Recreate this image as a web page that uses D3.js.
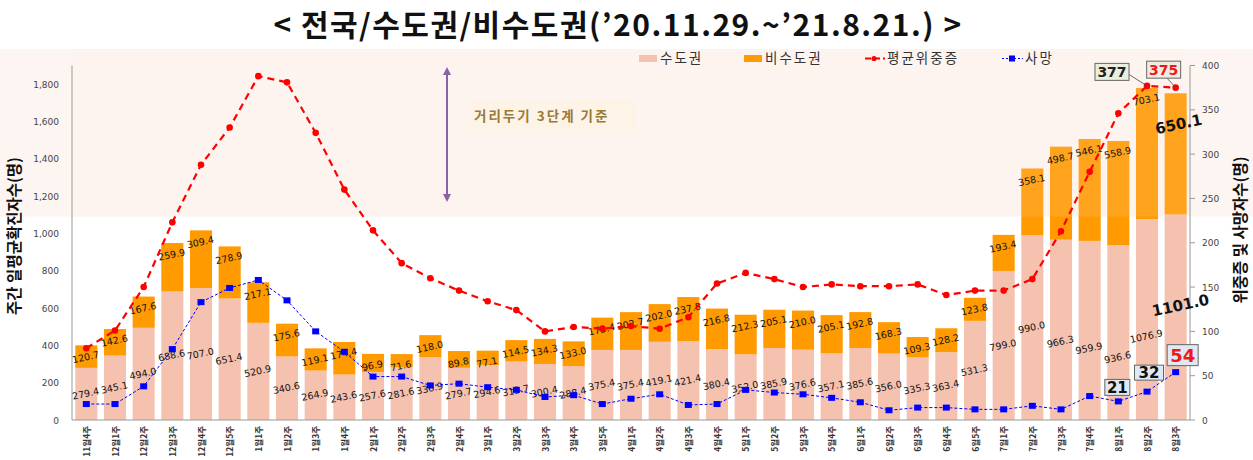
<!DOCTYPE html>
<html><head><meta charset="utf-8">
<script src="https://cdn.jsdelivr.net/npm/d3@7/dist/d3.min.js"></script>
<style>
body{margin:0;background:#fff;}
svg{display:block;}
</style></head>
<body>
<svg id="c" width="1253" height="460"></svg>
<script>
const weeks = ["11월4주","12월1주","12월2주","12월3주","12월4주","12월5주","1월1주","1월2주","1월3주","1월4주","2월1주","2월2주","2월3주","2월4주","3월1주","3월2주","3월3주","3월4주","3월5주","4월1주","4월2주","4월3주","4월4주","5월1주","5월2주","5월3주","5월4주","6월1주","6월2주","6월3주","6월4주","6월5주","7월1주","7월2주","7월3주","7월4주","8월1주","8월2주","8월3주"];
const capital = [279.4,345.1,494.0,688.6,707.0,651.4,520.9,340.6,264.9,243.6,257.6,281.6,336.9,279.7,294.6,313.7,300.4,288.4,375.4,375.4,419.1,421.4,380.4,352.0,385.9,376.6,357.1,385.6,356.0,335.3,363.4,531.3,799.0,990.0,966.3,959.9,936.6,1076.9,1101.0];
const nonCapital = [120.7,142.6,167.6,259.9,309.4,278.9,217.1,175.6,119.1,174.4,96.9,71.6,118.0,89.8,77.1,114.5,134.3,133.0,173.4,202.7,202.0,237.5,216.8,212.3,205.1,210.0,205.1,192.8,168.3,109.3,128.2,123.8,193.4,358.1,498.7,546.1,558.9,703.1,650.1];
const severe = [81,101,150,223,288,330,388,381,324,260,214,177,160,146,134,124,100,105,103,106,103,116,154,166,159,150,153,151,151,153,141,146,146,159,213,280,346,377,375];
const deaths = [18,18,38,80,133,149,158,135,100,77,49,49,39,41,37,34,26,28,18,24,29,17,18,34,31,29,25,20,11,14,14,12,12,16,12,27,21,32,54];
const leftTicks = [0,200,400,600,800,1000,1200,1400,1600,1800];
const rightTicks = [0,50,100,150,200,250,300,350,400];
const seriesNames = ["수도권","비수도권","평균위중증","사망"];
const titleText = "< 전국/수도권/비수도권(’20.11.29.~’21.8.21.) >";
const leftTitle = "주간 일평균확진자수(명)";
const rightTitle = "위중증 및 사망자수(명)";
const noteText = "거리두기 3단계 기준";
const stageLevel = 1090; // lower edge of shaded band (cases)

const C = {pink:"#f5c2b0", orange:"#ff9a00", red:"#ff0000", blue:"#0000ff"};
const svg = d3.select("#c");
const W = 1253, H = 460;
const L = 72, R = 1190, B = 420, T = 65.5;

const x = d3.scaleBand().domain(weeks).range([L,R]).paddingInner(0.23).paddingOuter(0.115);
const yL = d3.scaleLinear().domain([0,1900]).range([B,T]);
const yR = d3.scaleLinear().domain([0,400]).range([B,T]);
const cx = i => x(weeks[i]) + x.bandwidth()/2;

// shaded band
svg.append("rect").attr("x",0).attr("y",49).attr("width",W).attr("height",yL(stageLevel)-49).attr("fill","#fdf5f2");

// title
svg.append("text").attr("x",618).attr("y",36).attr("text-anchor","middle")
  .attr("font-family","'Noto Sans CJK KR'").attr("font-weight","bold").attr("font-size",30).attr("letter-spacing",1.5).attr("fill","#111").text(titleText);

// note box + arrow
svg.append("rect").attr("x",470).attr("y",100).attr("width",166).attr("height",34).attr("fill","#fdf3e4").attr("opacity",0.7);
svg.append("text").attr("x",474).attr("y",121).attr("font-family","'Noto Sans CJK KR'").attr("font-weight","bold")
  .attr("font-size",13.5).attr("letter-spacing",2).attr("fill","#8c6a1c").text(noteText);
const defs = svg.append("defs");
defs.append("marker").attr("id","ah").attr("viewBox","0 0 10 10").attr("refX",5).attr("refY",5)
  .attr("markerWidth",4).attr("markerHeight",4).attr("orient","auto-start-reverse")
  .append("path").attr("d","M0,0L10,5L0,10z").attr("fill","#7d4f9e");
svg.append("line").attr("x1",447).attr("x2",447).attr("y1",71).attr("y2",198)
  .attr("stroke","#7d4f9e").attr("stroke-width",2).attr("marker-start","url(#ah)").attr("marker-end","url(#ah)");

// bars
const g = svg.append("g");
g.selectAll(".bc").data(capital).join("rect").attr("x",(d,i)=>x(weeks[i])).attr("width",x.bandwidth())
  .attr("y",d=>yL(d)).attr("height",d=>B-yL(d)).attr("fill",C.pink);
g.selectAll(".bn").data(nonCapital).join("rect").attr("x",(d,i)=>x(weeks[i])).attr("width",x.bandwidth())
  .attr("y",(d,i)=>yL(capital[i]+d)).attr("height",(d,i)=>yL(capital[i])-yL(capital[i]+d)).attr("fill",C.orange);

// light overlay of band on bars
svg.append("rect").attr("x",L).attr("y",49).attr("width",R-L).attr("height",yL(stageLevel)-49).attr("fill","#fdf0ea").attr("opacity",0.12);

// axes
svg.append("line").attr("x1",L).attr("x2",L).attr("y1",T).attr("y2",B).attr("stroke","#999");
svg.append("line").attr("x1",L).attr("x2",R).attr("y1",B).attr("y2",B).attr("stroke","#999");
svg.append("line").attr("x1",R).attr("x2",R).attr("y1",T).attr("y2",B).attr("stroke","#999");
const fmt = d3.format(",");
svg.selectAll(".lt").data(leftTicks).join("text").attr("x",L-13).attr("y",d=>yL(d)+3.5).attr("text-anchor","end")
  .attr("font-family","'DejaVu Sans'").attr("font-size",9).attr("fill","#444").text(d=>fmt(d));
svg.selectAll(".rtm").data(rightTicks).join("line").attr("x1",R).attr("x2",R+5).attr("y1",d=>yR(d)).attr("y2",d=>yR(d)).attr("stroke","#999");
svg.selectAll(".rt").data(rightTicks).join("text").attr("x",R+12).attr("y",d=>yR(d)+3.5)
  .attr("font-family","'DejaVu Sans'").attr("font-size",9).attr("fill","#444").text(d=>d);
svg.selectAll(".xt").data(weeks).join("text")
  .attr("transform",(d,i)=>`translate(${cx(i)+3.5},426) rotate(-90)`).attr("text-anchor","end")
  .attr("font-family","'Noto Sans CJK KR'").attr("font-size",8.5).attr("font-weight","bold").attr("fill","#333").text(d=>d);

// axis titles
svg.append("text").attr("transform","translate(20,236) rotate(-90)").attr("text-anchor","middle")
  .attr("font-family","'Noto Sans CJK KR'").attr("font-weight","bold").attr("font-size",15.5).attr("fill","#111").text(leftTitle);
svg.append("text").attr("transform","translate(1246,230) rotate(-90)").attr("text-anchor","middle")
  .attr("font-family","'Noto Sans CJK KR'").attr("font-weight","bold").attr("font-size",15.5).attr("fill","#111").text(rightTitle);

// legend
const lg = svg.append("g").attr("font-family","'Noto Sans CJK KR'").attr("font-size",13.5).attr("fill","#333").attr("letter-spacing",2);
lg.append("rect").attr("x",639).attr("y",55).attr("width",18).attr("height",7).attr("fill",C.pink);
lg.append("text").attr("x",660).attr("y",63).text(seriesNames[0]);
lg.append("rect").attr("x",744).attr("y",55).attr("width",18).attr("height",7).attr("fill",C.orange);
lg.append("text").attr("x",765).attr("y",63).text(seriesNames[1]);
lg.append("line").attr("x1",865).attr("x2",885).attr("y1",58.5).attr("y2",58.5).attr("stroke",C.red).attr("stroke-width",1.8).attr("stroke-dasharray","6,3");
lg.append("circle").attr("cx",874).attr("cy",58.5).attr("r",2.6).attr("fill",C.red);
lg.append("text").attr("x",887).attr("y",63).text(seriesNames[2]);
lg.append("line").attr("x1",1002).attr("x2",1023).attr("y1",58.5).attr("y2",58.5).attr("stroke",C.blue).attr("stroke-width",1).attr("stroke-dasharray","2,2");
lg.append("rect").attr("x",1009).attr("y",55.5).attr("width",6).attr("height",6).attr("fill",C.blue);
lg.append("text").attr("x",1025).attr("y",63).text(seriesNames[3]);

// bar labels
const pinkNudge = {34:12, 35:18, 36:25, 37:17};
const lab = svg.append("g").attr("font-family","'DejaVu Sans'").attr("font-size",9.5).attr("fill","#111").attr("text-anchor","middle");
capital.forEach((d,i)=>{
  const last = i===capital.length-1;
  const yy = (B+yL(d))/2 + (pinkNudge[i]||0) + (last?-10:0) + 3;
  lab.append("text").attr("transform",`translate(${cx(i)+(last?6:0)},${yy}) rotate(-12)`)
    .attr("font-size",last?15:9.5).attr("font-weight",last?"bold":"normal").text(d.toFixed(1));
});
nonCapital.forEach((d,i)=>{
  const last = i===nonCapital.length-1;
  const yy = yL(capital[i]+d) + (last?33:12) + 3;
  lab.append("text").attr("transform",`translate(${cx(i)+(last?4:0)},${yy}) rotate(-12)`)
    .attr("font-size",last?15:9.5).attr("font-weight",last?"bold":"normal").text(d.toFixed(1));
});

// lines
const lineR = d3.line().x((d,i)=>cx(i)).y(d=>yR(d));
svg.append("path").attr("d",lineR(severe)).attr("fill","none").attr("stroke",C.red).attr("stroke-width",2.2).attr("stroke-dasharray","7,5");
svg.selectAll(".sd").data(severe).join("circle").attr("cx",(d,i)=>cx(i)).attr("cy",d=>yR(d)).attr("r",3.3).attr("fill",C.red);
svg.append("path").attr("d",lineR(deaths)).attr("fill","none").attr("stroke",C.blue).attr("stroke-width",1).attr("stroke-dasharray","3,2");
svg.selectAll(".dd").data(deaths).join("rect").attr("x",(d,i)=>cx(i)-3.5).attr("y",d=>yR(d)-3).attr("width",7).attr("height",6).attr("fill",C.blue);

// callouts
function callout(i, val, dx, dy, w, h, fill, color, fs, leader){
  const px = cx(i), py = yR(val);
  const bx = px+dx, by = py+dy;
  if(leader){
    svg.append("line").attr("x1",bx+w/2*leader[0]).attr("y1",by+h/2*leader[1]).attr("x2",px).attr("y2",py).attr("stroke","#444").attr("stroke-width",0.8);
  }
  svg.append("rect").attr("x",bx-w/2).attr("y",by-h/2).attr("width",w).attr("height",h).attr("fill",fill).attr("stroke","#666").attr("stroke-width",1);
  svg.append("text").attr("x",bx).attr("y",by+fs*0.36).attr("text-anchor","middle").attr("font-family","'DejaVu Sans'")
    .attr("font-weight","bold").attr("font-size",fs).attr("fill",color).text(val);
}
const nS = severe.length, nD = deaths.length;
callout(nS-2, severe[nS-2], -35, -14, 34, 17, "#eaeedd", "#222", 14, [1,0.3]);
callout(nS-1, severe[nS-1], -12, -18, 34, 17, "#eceee3", "#f01818", 14, [0.2,1]);
callout(nD-3, deaths[nD-3], -1, -14, 25, 16, "#dfe8f3", "#111", 15, null);
callout(nD-2, deaths[nD-2], 2, -19, 29, 15, "#dfe8f3", "#111", 15, null);
callout(nD-1, deaths[nD-1], 7, -17, 31, 21, "#dfe8f3", "#f01818", 18, null);
</script>
</body></html>
